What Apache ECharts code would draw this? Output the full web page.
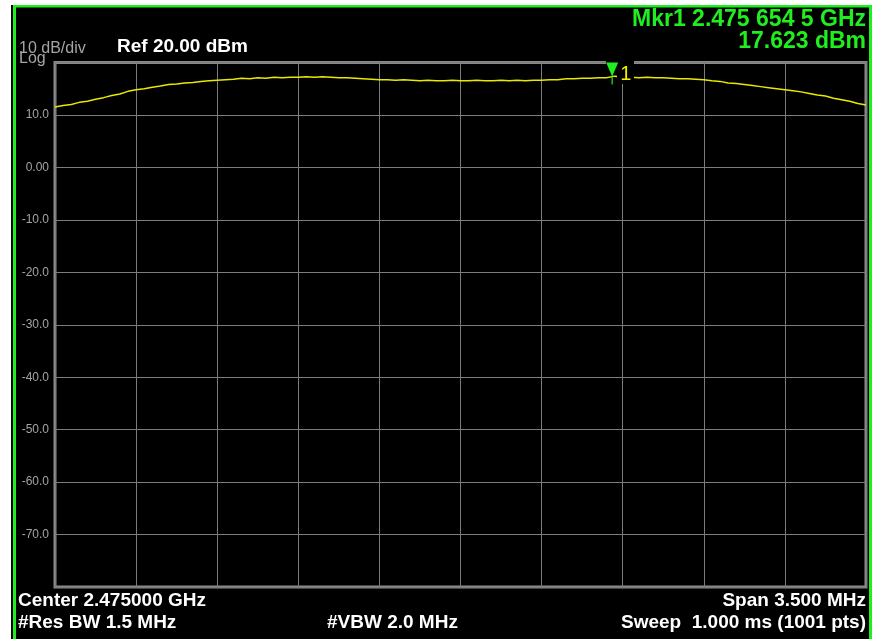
<!DOCTYPE html>
<html>
<head>
<meta charset="utf-8">
<script src="https://cdn.jsdelivr.net/npm/echarts@6/dist/echarts.min.js"></script>
<style>
html,body{margin:0;padding:0;background:#fff;}
#c{width:874px;height:639px;}
</style>
</head>
<body>
<div id="c"></div>
<script>
// ---- data ----
const centerGHz = 2.475;
const spanKHz = 3500;
const yTickValues = [10, 0, -10, -20, -30, -40, -50, -60, -70];
const traceDbm = [
11.5, 11.8, 12.0, 12.4, 12.6, 13.0, 13.3, 13.7, 14.0, 14.5,
14.8, 15.0, 15.3, 15.5, 15.8, 15.9, 16.1, 16.2, 16.4, 16.5,
16.6, 16.7, 16.8, 17.0, 16.9, 17.1, 17.0, 17.2, 17.1, 17.2,
17.2, 17.3, 17.2, 17.3, 17.2, 17.1, 17.1, 17.0, 16.9, 16.8,
16.7, 16.7, 16.6, 16.7, 16.6, 16.5, 16.6, 16.5, 16.5, 16.6,
16.5, 16.5, 16.6, 16.5, 16.5, 16.6, 16.5, 16.6, 16.5, 16.6,
16.6, 16.7, 16.7, 16.9, 16.9, 17.0, 17.0, 17.1, 17.1, 17.4,
17.2, 17.2, 17.1, 17.2, 17.1, 17.1, 17.0, 16.9, 16.9, 16.8,
16.7, 16.5, 16.4, 16.1, 16.0, 15.8, 15.6, 15.4, 15.2, 15.0,
14.8, 14.6, 14.4, 14.1, 13.8, 13.6, 13.2, 12.9, 12.6, 12.2,
11.9];
const markerOffsetKHz = 654.5;   // 2.475 654 5 GHz
const markerDbm = 17.623;

// sweep offsets (kHz from center), evenly spaced across span
const offsetsKHz = traceDbm.map((_, i) => -spanKHz / 2 + i * spanKHz / (traceDbm.length - 1));
const seriesData = traceDbm.map((v, i) => [offsetsKHz[i], v]);

const GREEN = '#1fee1f';
const FONT = 'Liberation Sans, Arial, sans-serif';
const chart = echarts.init(document.getElementById('c'));
chart.setOption({
  animation: false,
  backgroundColor: '#ffffff',
  grid: {
    left: 55, right: 8, top: 62.5, bottom: 52,
    show: true, backgroundColor: '#000', borderColor: '#8a8a8a', borderWidth: 3
  },
  xAxis: {
    type: 'value', min: -spanKHz / 2, max: spanKHz / 2, interval: spanKHz / 10,
    axisLine: {show: false}, axisTick: {show: false}, axisLabel: {show: false},
    splitLine: {show: true, lineStyle: {color: '#7c7c7c', width: 1}}
  },
  yAxis: {
    type: 'value', min: -80, max: 20, interval: 10,
    axisLine: {show: false}, axisTick: {show: false},
    axisLabel: {
      margin: 6, color: '#a4a4a4', fontFamily: FONT, fontSize: 12,
      formatter: v => (yTickValues.indexOf(v) < 0 ? '' : (v === 0 ? '0.00' : v.toFixed(1)))
    },
    splitLine: {show: true, lineStyle: {color: '#7c7c7c', width: 1}}
  },
  series: [{
    type: 'line', data: seriesData, showSymbol: false, z: 2,
    lineStyle: {color: '#e8e800', width: 1.5},
    markPoint: {
      z: 6,
      symbol: 'path://M0,0 L12,0 L6,14 Z M5.4,4 L6.6,4 L6.6,22 L5.4,22 Z',
      symbolSize: [12, 22],
      symbolOffset: [0, -1.5],
      itemStyle: {color: GREEN},
      label: {show: true, position: 'right', distance: 2, offset: [0, 1], formatter: '1',
               color: '#f2f200', fontSize: 20, fontFamily: FONT},
      data: [{coord: [markerOffsetKHz, markerDbm]}]
    }
  }],
  graphic: [
    // instrument panel
    {type: 'rect', z: -10, shape: {x: 11, y: 5, width: 861, height: 634}, style: {fill: '#000'}},
    {type: 'rect', z: -9, shape: {x: 13, y: 5, width: 859, height: 2.5}, style: {fill: GREEN}},
    {type: 'rect', z: -9, shape: {x: 13, y: 5, width: 3, height: 634}, style: {fill: GREEN}},
    {type: 'rect', z: -9, shape: {x: 869, y: 5, width: 3, height: 634}, style: {fill: GREEN}},
    // marker label backdrop
    {type: 'rect', z: 4, shape: {x: 617, y: 60, width: 17, height: 24}, style: {fill: '#000'}},
    {type: 'rect', z: 4, shape: {x: 606, y: 60, width: 12, height: 5}, style: {fill: '#000'}},
    // texts
    {type: 'text', z: 10, left: 19, top: 41, style: {text: '10 dB/div', fill: '#a4a4a4', font: '16px ' + FONT}},
    {type: 'text', z: 10, left: 19, top: 51, style: {text: 'Log', fill: '#a4a4a4', font: '16px ' + FONT}},
    {type: 'text', z: 10, left: 117, top: 37, style: {text: 'Ref 20.00 dBm', fill: '#ffffff', font: 'bold 19px ' + FONT}},
    {type: 'text', z: 10, right: 8, top: 8, style: {text: 'Mkr1 2.475 654 5 GHz', fill: GREEN, font: 'bold 23px ' + FONT}},
    {type: 'text', z: 10, right: 8, top: 30, style: {text: '17.623 dBm', fill: GREEN, font: 'bold 23px ' + FONT}},
    {type: 'text', z: 10, left: 18, top: 591, style: {text: 'Center 2.475000 GHz', fill: '#ffffff', font: 'bold 19px ' + FONT}},
    {type: 'text', z: 10, left: 18, top: 613, style: {text: '#Res BW 1.5 MHz', fill: '#ffffff', font: 'bold 19px ' + FONT}},
    {type: 'text', z: 10, left: 327, top: 613, style: {text: '#VBW 2.0 MHz', fill: '#ffffff', font: 'bold 19px ' + FONT}},
    {type: 'text', z: 10, right: 8, top: 591, style: {text: 'Span 3.500 MHz', fill: '#ffffff', font: 'bold 19px ' + FONT}},
    {type: 'text', z: 10, right: 8, top: 613, style: {text: 'Sweep  1.000 ms (1001 pts)', fill: '#ffffff', font: 'bold 19px ' + FONT}}
  ]
});
</script>
</body>
</html>
